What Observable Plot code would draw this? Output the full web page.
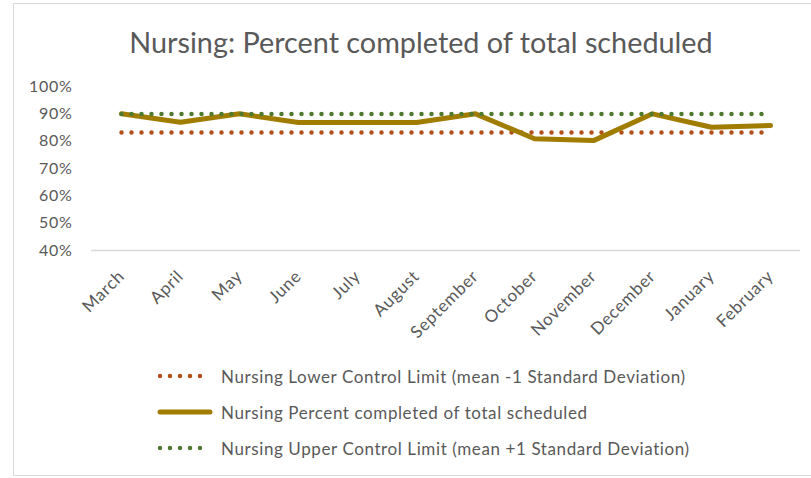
<!DOCTYPE html>
<html>
<head>
<meta charset="utf-8">
<script src="https://cdn.jsdelivr.net/npm/d3@7"></script>
<script src="https://cdn.jsdelivr.net/npm/@observablehq/plot@0.6"></script>
<style>
  html, body { margin: 0; padding: 0; background: #fff; }
  body { width: 811px; height: 478px; position: relative; overflow: hidden; font-family: Lato, "Open Sans", sans-serif; color: #595959; }
  #frame { position: absolute; left: 13px; top: 3px; width: 820px; height: 473px; border: 1px solid #d9d9d9; box-sizing: border-box; }
  #title { position: absolute; left: 0; width: 842px; top: 23px; text-align: center; font-size: 28.8px; line-height: 38px; white-space: nowrap; }
  #chart { position: absolute; left: 0; top: 70px; }
  #chart svg text { letter-spacing: 0.7px; }
  #legend { position: absolute; left: 157px; top: 362px; }
  .row { position: absolute; left: 0; height: 28px; display: flex; align-items: center; white-space: nowrap; font-size: 17px; letter-spacing: 0.6px; }
  .row svg { margin-right: 8px; }
</style>
</head>
<body>
<div id="frame"></div>
<div id="title">Nursing: Percent completed of total scheduled</div>
<div id="chart"></div>
<div id="legend"></div>
<script>
const months = ["March","April","May","June","July","August","September","October","November","December","January","February"];
const percentCompleted = [0.900, 0.869, 0.900, 0.868, 0.868, 0.868, 0.900, 0.809, 0.802, 0.900, 0.851, 0.857];
const lowerLimit = [0.832, 0.832, 0.832, 0.832, 0.832, 0.832, 0.832, 0.832, 0.832, 0.832, 0.832, 0.832];
const upperLimit = [0.899, 0.899, 0.899, 0.899, 0.899, 0.899, 0.899, 0.899, 0.899, 0.899, 0.899, 0.899];
const yTicks = [0.4, 0.5, 0.6, 0.7, 0.8, 0.9, 1.0];
const seriesNames = [
  "Nursing Lower Control Limit (mean -1 Standard Deviation)",
  "Nursing Percent completed of total scheduled",
  "Nursing Upper Control Limit (mean +1 Standard Deviation)"
];

const colLower = "#b24e17", colMain = "#a07c00", colUpper = "#4e7a2f";

const rows = months.map((m, i) => ({month: m, pct: percentCompleted[i], lo: lowerLimit[i], hi: upperLimit[i]}));

const chart = Plot.plot({
  width: 811,
  height: 290,
  marginLeft: 91,
  marginRight: 11,
  marginTop: 16,
  marginBottom: 110,
  style: {fontFamily: "Lato, 'Open Sans', sans-serif", fontSize: "14px", color: "#595959", background: "transparent"},
  x: {type: "point", domain: months, padding: 0.5, label: null},
  y: {domain: [0.4, 1.0], label: null},
  marks: [
    Plot.ruleY([0.4], {stroke: "#d9d9d9", strokeWidth: 1.5}),
    Plot.axisY({ticks: yTicks, tickFormat: d3.format(".0%"), tickSize: 0, tickPadding: 19, fontSize: 16, label: null}),
    Plot.axisX({tickSize: 0, tickRotate: -45, tickPadding: 23, fontSize: 17, label: null}),
    Plot.line(rows, {x: "month", y: "lo", stroke: colLower, strokeWidth: 4.5, strokeDasharray: "0 10", strokeLinecap: "round"}),
    Plot.line(rows, {x: "month", y: "pct", stroke: colMain, strokeWidth: 5, strokeLinejoin: "round"}),
    Plot.line(rows, {x: "month", y: "hi", stroke: colUpper, strokeWidth: 4.5, strokeDasharray: "0 10", strokeLinecap: "round"})
  ]
});
document.getElementById("chart").appendChild(chart);

// legend
const legend = document.getElementById("legend");
const styles = [
  {color: colLower, dash: "0 10", w: 4.5, cap: "round"},
  {color: colMain, dash: null, w: 5, cap: "round"},
  {color: colUpper, dash: "0 10", w: 4.5, cap: "round"}
];
const rowTops = [0, 36, 72];
seriesNames.forEach((name, i) => {
  const s = styles[i];
  const div = document.createElement("div");
  div.className = "row";
  div.style.top = rowTops[i] + "px";
  div.innerHTML = `<svg width="56" height="10"><line x1="3" x2="53" y1="5" y2="5" stroke="${s.color}" stroke-width="${s.w}" stroke-linecap="${s.cap}" ${s.dash ? `stroke-dasharray="${s.dash}"` : ""}/></svg><span>${name}</span>`;
  legend.appendChild(div);
});
</script>
</body>
</html>
